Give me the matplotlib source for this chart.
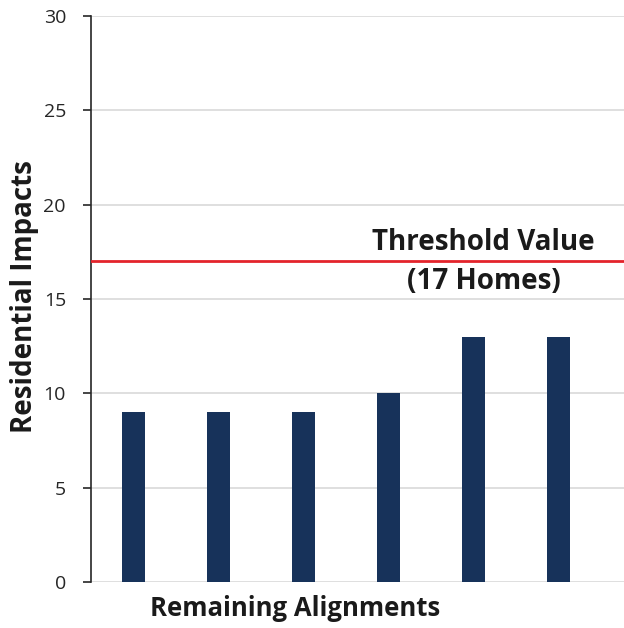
import numpy as np
import matplotlib.pyplot as plt

plt.rcParams['font.family'] = ['Open Sans', 'DejaVu Sans']

# Data
alignments = ['A', 'B', 'C', 'D', 'E', 'F']
impacts = [9, 9, 9, 10, 13, 13]
threshold = 17
y_ticks = [0, 5, 10, 15, 20, 25, 30]

fig = plt.figure(figsize=(6.24, 6.28), dpi=100)
ax = fig.add_axes([0.1458, 0.0732, 0.8542, 0.9013])

x = np.arange(len(alignments))
ax.bar(x, impacts, width=0.26, color='#17325A', zorder=3)

# Threshold line
ax.axhline(threshold, color='#E3242B', lw=2, zorder=4)
ax.text(4.12, 18.0, 'Threshold Value', ha='center', va='center',
        fontsize=20, fontweight='bold', color='#1a1a1a')
ax.text(4.12, 15.93, '(17 Homes)', ha='center', va='center',
        fontsize=20, fontweight='bold', color='#1a1a1a')

ax.set_ylim(0, 30)
ax.set_xlim(-0.5, 5.77)
ax.set_yticks(y_ticks)
ax.set_xticks([])
ax.yaxis.grid(True, color='#D9D9D9', lw=1.2, zorder=0)

for s in ['top', 'right', 'bottom']:
    ax.spines[s].set_visible(False)
ax.spines['left'].set_color('#262626')
ax.spines['left'].set_linewidth(1.2)
ax.tick_params(axis='y', length=6, width=1.2, color='#262626',
               labelsize=14, pad=12, labelcolor='#262626')

ax.set_ylabel('Residential Impacts', fontsize=20, fontweight='bold',
              color='#1a1a1a', va='center')
ax.yaxis.set_label_coords(-0.124, 0.505)
ax.set_xlabel('Remaining Alignments', fontsize=18.5, fontweight='bold',
              color='#1a1a1a')
ax.xaxis.set_label_coords(0.383, -0.023)
ax.xaxis.label.set_va('top')

fig.savefig('out.png', dpi=100)
